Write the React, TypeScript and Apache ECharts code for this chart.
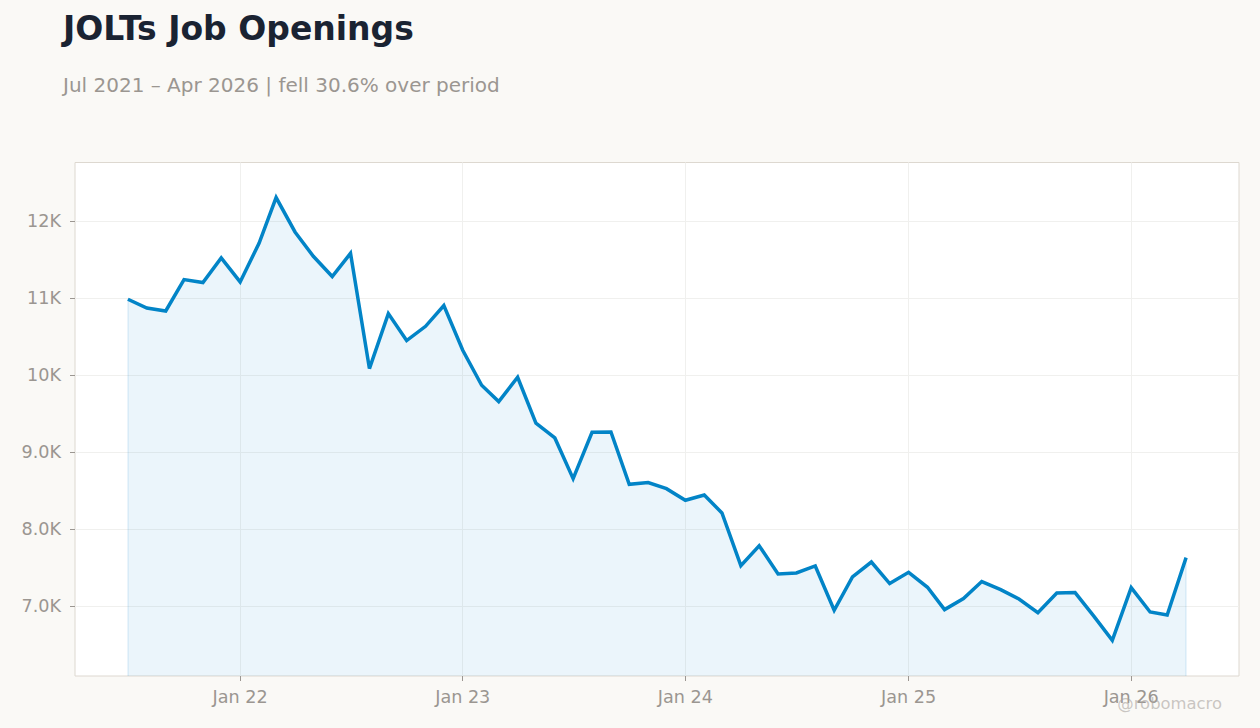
import { useEffect, useRef } from "react";
import * as echarts from "echarts";

const months = [
  "2021-07", "2021-08", "2021-09", "2021-10", "2021-11", "2021-12",
  "2022-01", "2022-02", "2022-03", "2022-04", "2022-05", "2022-06",
  "2022-07", "2022-08", "2022-09", "2022-10", "2022-11", "2022-12",
  "2023-01", "2023-02", "2023-03", "2023-04", "2023-05", "2023-06",
  "2023-07", "2023-08", "2023-09", "2023-10", "2023-11", "2023-12",
  "2024-01", "2024-02", "2024-03", "2024-04", "2024-05", "2024-06",
  "2024-07", "2024-08", "2024-09", "2024-10", "2024-11", "2024-12",
  "2025-01", "2025-02", "2025-03", "2025-04", "2025-05", "2025-06",
  "2025-07", "2025-08", "2025-09", "2025-10", "2025-11", "2025-12",
  "2026-01", "2026-02", "2026-03", "2026-04",
];

const openings = [
  10987, 10874, 10835, 11243, 11204, 11523,
  11212, 11714, 12308, 11861, 11545, 11282,
  11584, 10087, 10801, 10451, 10636, 10905,
  10325, 9870, 9658, 9974, 9377, 9186,
  8658, 9260, 9264, 8584, 8606, 8528,
  8377, 8446, 8212, 7528, 7787, 7420,
  7433, 7524, 6948, 7381, 7575, 7295,
  7441, 7247, 6957, 7100, 7321, 7217,
  7095, 6918, 7173, 7178, 6870, 6558,
  7243, 6926, 6887, 7632,
];

const yearTicks = ["2022-01", "2023-01", "2024-01", "2025-01", "2026-01"];
const yearLabels = ["Jan 22", "Jan 23", "Jan 24", "Jan 25", "Jan 26"];
const valueTicks = [7000, 8000, 9000, 10000, 11000, 12000];
const valueLabels = ["7.0K", "8.0K", "9.0K", "10K", "11K", "12K"];

const FONT = "'DejaVu Sans', sans-serif";
const TEXT_GREY = "#9b9691";
const toTime = (m: string) => Date.parse(m + "-01T00:00:00Z");

export default function App() {
  const chartRef = useRef<HTMLDivElement>(null);

  useEffect(() => {
    document.body.style.margin = "0";
    if (!chartRef.current) return;
    const chart = echarts.init(chartRef.current, null, { renderer: "svg" });

    // x is a plain value axis in ms, the time axis breaks with customValues
    const yearTimes = yearTicks.map(toTime);
    const first = toTime(months[0]);
    const last = toTime(months[months.length - 1]);
    const pad = 86.75 * 24 * 3600 * 1000;
    const yMin = 6095;

    chart.setOption({
      animation: false,
      backgroundColor: "#faf9f6",
      title: [
        {
          text: "JOLTs Job Openings",
          left: 58,
          top: 6.5,
          textStyle: { fontFamily: FONT, fontSize: 33, fontWeight: "bold", color: "#1a2332" },
        },
        {
          text: "Jul 2021 – Apr 2026 | fell 30.6% over period",
          left: 58,
          top: 70,
          textStyle: { fontFamily: FONT, fontSize: 20, fontWeight: "normal", color: TEXT_GREY },
        },
      ],
      grid: {
        show: true,
        left: 75,
        right: 21,
        top: 162.5,
        bottom: 52,
        backgroundColor: "#ffffff",
        borderColor: "#ddd8d0",
        borderWidth: 1,
      },
      xAxis: {
        type: "value",
        min: first - pad,
        max: last + pad,
        axisLine: { show: false },
        axisTick: {
          show: true,
          length: 5,
          customValues: yearTimes,
          lineStyle: { color: TEXT_GREY, width: 1 },
        },
        axisLabel: {
          customValues: yearTimes,
          margin: 12,
          fontFamily: FONT,
          fontSize: 17.6,
          color: TEXT_GREY,
          formatter: (value: number) => yearLabels[yearTimes.indexOf(value)] ?? "",
        },
        splitLine: { show: true, lineStyle: { color: "#f0f0ee", width: 1 } },
      },
      yAxis: {
        type: "value",
        min: yMin,
        max: 12763,
        axisLine: { show: false },
        axisTick: {
          show: true,
          length: 5,
          customValues: valueTicks,
          lineStyle: { color: TEXT_GREY, width: 1 },
        },
        axisLabel: {
          customValues: valueTicks,
          margin: 14,
          fontFamily: FONT,
          fontSize: 17.6,
          color: TEXT_GREY,
          formatter: (value: number) => valueLabels[valueTicks.indexOf(value)] ?? "",
        },
        splitLine: { show: true, lineStyle: { color: "#f0f0ee", width: 1 } },
      },
      series: [
        {
          type: "line",
          data: months.map((m, i) => [toTime(m), openings[i]]),
          showSymbol: false,
          symbol: "none",
          lineStyle: { color: "#0284c7", width: 3.5, join: "miter" },
          itemStyle: { color: "#0284c7" },
          areaStyle: { color: "rgba(2,132,199,0.08)", opacity: 1, origin: "start" },
          markLine: {
            silent: true,
            symbol: "none",
            label: { show: false },
            lineStyle: { color: "rgba(2,132,199,0.08)", width: 2, type: "solid" },
            data: [
              [{ coord: [first, openings[0]] }, { coord: [first, yMin] }],
              [{ coord: [last, openings[openings.length - 1]] }, { coord: [last, yMin] }],
            ],
          },
        },
      ],
      graphic: [
        {
          type: "text",
          right: 38,
          top: 695,
          z: 100,
          style: {
            text: "@robomacro",
            fontFamily: FONT,
            fontSize: 16.4,
            fill: "rgba(168,162,158,0.6)",
          },
        },
      ],
    });

    return () => {
      chart.dispose();
    };
  }, []);

  return <div ref={chartRef} style={{ width: 1260, height: 728 }} />;
}
